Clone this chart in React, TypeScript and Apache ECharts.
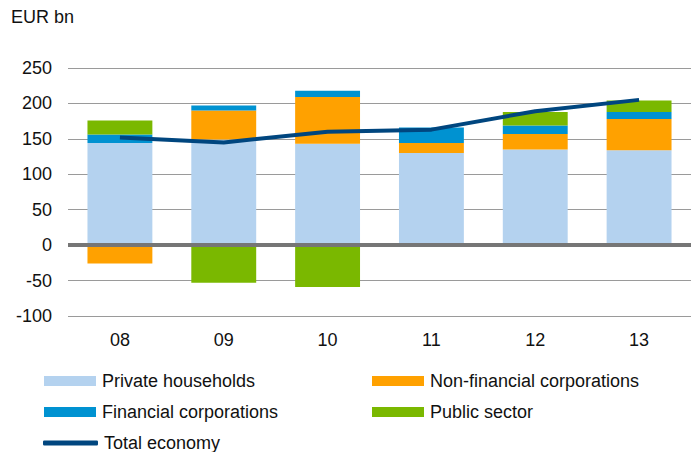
import React, { useEffect, useRef } from "react";
import * as echarts from "echarts";

const categories = ["08", "09", "10", "11", "12", "13"];
const privateHouseholds = [144, 149, 143, 130, 135, 134];
const nonFinancialCorps = [-26, 41, 66, 14, 22, 44];
const financialCorps = [12, 7, 9, 22, 12, 10];
const publicSector = [20, -53, -59, 0, 19, 16];
const totalEconomy = [152, 145, 160, 163, 189, 205];
const yTicks = { min: -100, max: 250, interval: 50 };

const FONT = "'Liberation Sans', Arial, Helvetica, sans-serif";
const TEXT = "#111111";
const COLORS = {
  priv: "#b4d2ef",
  nonfin: "#ffa100",
  fin: "#0092d1",
  pub: "#7ab800",
  total: "#00467f",
};

export default function App() {
  const ref = useRef<HTMLDivElement>(null);
  useEffect(() => {
    if (!ref.current) return;
    const chart = echarts.init(ref.current, undefined, { renderer: "svg" });
    const legendBase = (name: string, left: number, top: number, extra: any = {}) => ({
      show: true,
      data: [name],
      left,
      top,
      orient: "horizontal",
      padding: 0,
      itemWidth: 52,
      itemHeight: 10,
      itemGap: 0,
      icon: "rect",
      selectedMode: false,
      textStyle: { fontFamily: FONT, fontSize: 18, color: TEXT, lineHeight: 20, padding: [0, 0, 0, 1] },
      ...extra,
    });
    const barSeries = (name: string, data: number[], color: string) => ({
      name,
      type: "bar",
      stack: "total",
      data,
      barWidth: "62.5%",
      itemStyle: { color },
    });
    chart.setOption({
      animation: false,
      grid: { left: 68, right: 0, top: 68, bottom: 136, containLabel: false },
      graphic: [
        {
          type: "text",
          left: 11,
          top: 8,
          style: { text: "EUR bn", fontFamily: FONT, fontSize: 18, fill: TEXT },
        },
      ],
      legend: [
        legendBase("Private households", 44, 371),
        legendBase("Non-financial corporations", 372, 371),
        legendBase("Financial corporations", 44, 402),
        legendBase("Public sector", 372, 402),
        legendBase("Total economy", 43, 433, { icon: "roundRect", itemWidth: 55, itemHeight: 5 }),
      ],
      xAxis: {
        type: "category",
        data: categories,
        axisLine: { show: false, onZero: false },
        axisTick: { show: false },
        axisLabel: { fontFamily: FONT, fontSize: 18, color: TEXT, margin: 15 },
        splitLine: { show: false },
      },
      yAxis: {
        type: "value",
        min: yTicks.min,
        max: yTicks.max,
        interval: yTicks.interval,
        axisLine: { show: false },
        axisTick: { show: false },
        axisLabel: { fontFamily: FONT, fontSize: 18, color: TEXT, margin: 16 },
        splitLine: { show: true, lineStyle: { color: "#9a9a9a", width: 1.2 } },
      },
      series: [
        barSeries("Private households", privateHouseholds, COLORS.priv),
        barSeries("Non-financial corporations", nonFinancialCorps, COLORS.nonfin),
        barSeries("Financial corporations", financialCorps, COLORS.fin),
        barSeries("Public sector", publicSector, COLORS.pub),
        {
          name: "Total economy",
          type: "line",
          data: totalEconomy,
          symbol: "none",
          lineStyle: { color: COLORS.total, width: 4 },
          itemStyle: { color: COLORS.total },
          z: 5,
          markLine: {
            silent: true,
            symbol: ["none", "none"],
            label: { show: false },
            lineStyle: { color: "#767676", width: 4, type: "solid" },
            data: [{ yAxis: 0 }],
          },
        },
      ],
    });
    return () => chart.dispose();
  }, []);
  return (
    <div
      ref={ref}
      style={{ position: "absolute", left: 0, top: 0, width: 691, height: 452 }}
    />
  );
}
